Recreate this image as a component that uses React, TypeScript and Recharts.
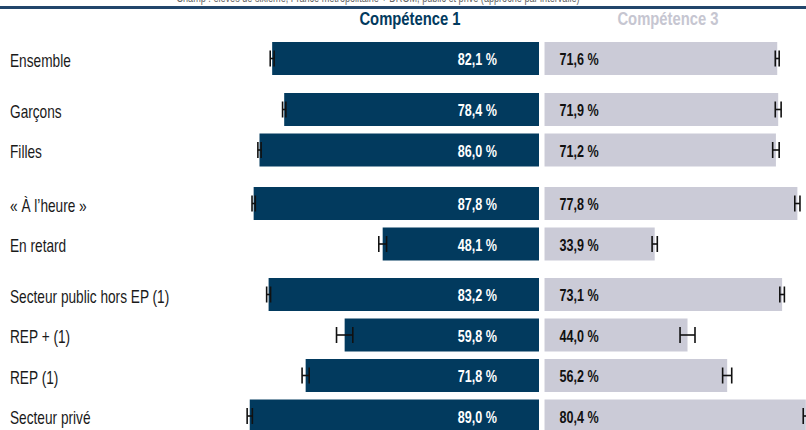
import { ComposedChart, Bar, XAxis, YAxis, ErrorBar, LabelList } from "recharts";

const categories = [
  "Ensemble",
  "Garçons",
  "Filles",
  "« À l’heure »",
  "En retard",
  "Secteur public hors EP (1)",
  "REP + (1)",
  "REP (1)",
  "Secteur privé",
];
const competence1 = [82.1, 78.4, 86.0, 87.8, 48.1, 83.2, 59.8, 71.8, 89.0];
const competence3 = [71.6, 71.9, 71.2, 77.8, 33.9, 73.1, 44.0, 56.2, 80.4];
const error1 = [0.6, 0.5, 0.5, 0.5, 1.2, 0.6, 2.5, 1.1, 0.8];
const error3 = [0.6, 0.9, 1.0, 0.8, 0.8, 0.7, 2.3, 1.4, 0.8];
const groupSizes = [1, 2, 2, 4];

const DARK_BLUE = "#023a5e";
const LIGHT_GREY = "#cbcbd7";
// no condensed face installed, so Liberation Sans gets squeezed horizontally
const FONT = "'Liberation Sans', Arial, sans-serif";

const ROW = 40.5;
const FIRST_TOP = 38.25;
const GROUP_GAPS = [10.5, 13, 10];

type Row = { label: string; c1: number; c3: number; e1: number; e3: number };

const rows: Row[] = categories.map((label, i) => ({
  label,
  c1: competence1[i],
  c3: competence3[i],
  e1: error1[i],
  e3: error3[i],
}));

function fmt(v: number) {
  return `${v.toFixed(1).replace(".", ",")} %`;
}

function NarrowText({
  x,
  y,
  squeeze,
  children,
  ...rest
}: {
  x: number;
  y: number;
  squeeze: number;
  children: React.ReactNode;
  [k: string]: any;
}) {
  return (
    <text transform={`translate(${x},${y}) scale(${squeeze},1)`} x={0} y={0} fontFamily={FONT} {...rest}>
      {children}
    </text>
  );
}

function CategoryTick({ y, payload }: any) {
  return (
    <NarrowText x={10} y={y + 8.5} squeeze={0.76} fontSize={18} fill="#1a1a1a">
      {payload.value}
    </NarrowText>
  );
}

function LeftValue({ x, y, width, height, value }: any) {
  const right = Math.max(x, x + width);
  return (
    <NarrowText
      x={right - 42}
      y={y + height / 2 + 6.5}
      squeeze={0.74}
      textAnchor="end"
      fill="#fff"
      fontWeight="bold"
      fontSize={17}
    >
      {fmt(value)}
    </NarrowText>
  );
}

function RightValue({ x, y, width, height, value }: any) {
  const left = Math.min(x, x + width);
  return (
    <NarrowText
      x={left + 15}
      y={y + height / 2 + 6.5}
      squeeze={0.74}
      textAnchor="start"
      fill="#111"
      fontWeight="bold"
      fontSize={17}
    >
      {fmt(value)}
    </NarrowText>
  );
}

function GroupChart({ data }: { data: Row[] }) {
  return (
    <ComposedChart
      layout="vertical"
      width={864}
      height={data.length * ROW}
      data={data}
      margin={{ top: 0, right: 0, bottom: 0, left: 0 }}
    >
      <XAxis xAxisId="l" type="number" domain={[-100, 100]} allowDataOverflow hide />
      <XAxis xAxisId="r" type="number" domain={[-101.7, 98.3]} allowDataOverflow hide />
      <YAxis
        yAxisId="l"
        type="category"
        dataKey="label"
        width={214}
        tick={(p: any) => <CategoryTick {...p} />}
        tickLine={false}
        axisLine={false}
        interval={0}
      />
      <YAxis yAxisId="r" type="category" dataKey="label" hide />
      <Bar
        xAxisId="l"
        yAxisId="l"
        dataKey={(d: Row) => -d.c1}
        fill={DARK_BLUE}
        barSize={33}
        isAnimationActive={false}
      >
        <ErrorBar dataKey="e1" direction="x" width={8} stroke="#111" strokeWidth={1.6} isAnimationActive={false} />
        <LabelList dataKey="c1" content={(p: any) => <LeftValue {...p} />} />
      </Bar>
      <Bar
        xAxisId="r"
        yAxisId="r"
        dataKey="c3"
        fill={LIGHT_GREY}
        barSize={33}
        isAnimationActive={false}
      >
        <ErrorBar dataKey="e3" direction="x" width={8} stroke="#111" strokeWidth={1.6} isAnimationActive={false} />
        <LabelList dataKey="c3" content={(p: any) => <RightValue {...p} />} />
      </Bar>
    </ComposedChart>
  );
}

export default function App() {
  let top = FIRST_TOP;
  let start = 0;
  const blocks = groupSizes.map((n, g) => {
    const data = rows.slice(start, start + n);
    const block = (
      <div key={g} style={{ position: "absolute", left: 0, top }}>
        <GroupChart data={data} />
      </div>
    );
    start += n;
    top += n * ROW + (GROUP_GAPS[g] ?? 0);
    return block;
  });

  return (
    <div
      style={{
        position: "absolute",
        left: 0,
        top: 0,
        width: 806,
        height: 430,
        overflow: "hidden",
        background: "#fff",
      }}
    >
      <svg width={806} height={36} style={{ position: "absolute", left: 0, top: 0 }}>
        {/* bottom edge of a caption line that the crop cuts off */}
        <NarrowText x={378} y={1.5} squeeze={0.76} textAnchor="middle" fontSize={12} fill="#666">
          Champ : élèves de sixième, France métropolitaine + DROM, public et privé (approche par intervalle)
        </NarrowText>
        <rect x={0} y={6} width={806} height={3} fill="#22466b" />
        <NarrowText x={410} y={25} squeeze={0.78} textAnchor="middle" fontSize={19} fontWeight="bold" fill={DARK_BLUE}>
          Compétence 1
        </NarrowText>
        <NarrowText x={668} y={25} squeeze={0.78} textAnchor="middle" fontSize={19} fontWeight="bold" fill="#c6c6d1">
          Compétence 3
        </NarrowText>
      </svg>
      {blocks}
    </div>
  );
}
